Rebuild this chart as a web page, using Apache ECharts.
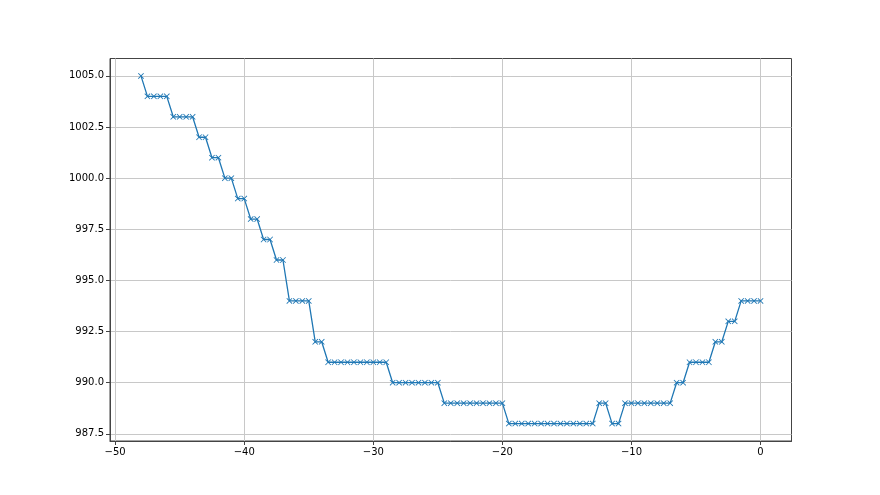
<!DOCTYPE html>
<html>
<head>
<meta charset="utf-8">
<script src="https://cdn.jsdelivr.net/npm/echarts@6/dist/echarts.min.js"></script>
<style>
  html, body { margin: 0; padding: 0; background: #fff; }
  #chart { width: 880px; height: 495px; }
</style>
</head>
<body>
<div id="chart"></div>
<script>
// x runs from -48 to 0 in steps of 0.5 (97 readings)
const xValues = [
  -48, -47.5, -47, -46.5, -46, -45.5, -45, -44.5, -44, -43.5, -43, -42.5, -42,
  -41.5, -41, -40.5, -40, -39.5, -39, -38.5, -38, -37.5, -37, -36.5, -36, -35.5,
  -35, -34.5, -34, -33.5, -33, -32.5, -32, -31.5, -31, -30.5, -30, -29.5, -29,
  -28.5, -28, -27.5, -27, -26.5, -26, -25.5, -25, -24.5, -24, -23.5, -23, -22.5,
  -22, -21.5, -21, -20.5, -20, -19.5, -19, -18.5, -18, -17.5, -17, -16.5, -16,
  -15.5, -15, -14.5, -14, -13.5, -13, -12.5, -12, -11.5, -11, -10.5, -10, -9.5,
  -9, -8.5, -8, -7.5, -7, -6.5, -6, -5.5, -5, -4.5, -4, -3.5, -3, -2.5, -2,
  -1.5, -1, -0.5, 0
];
const pressure = [
  1005, 1004, 1004, 1004, 1004, 1003, 1003, 1003, 1003, 1002, 1002, 1001, 1001,
  1000, 1000, 999, 999, 998, 998, 997, 997, 996, 996, 994, 994, 994,
  994, 992, 992, 991, 991, 991, 991, 991, 991, 991, 991, 991, 991,
  990, 990, 990, 990, 990, 990, 990, 990, 989, 989, 989, 989, 989,
  989, 989, 989, 989, 989, 988, 988, 988, 988, 988, 988, 988, 988,
  988, 988, 988, 988, 988, 988, 989, 989, 988, 988, 989, 989, 989,
  989, 989, 989, 989, 989, 990, 990, 991, 991, 991, 991, 992, 992, 993, 993,
  994, 994, 994, 994
];
const xTicks = [-50, -40, -30, -20, -10, 0];
const yTicks = [987.5, 990, 992.5, 995, 997.5, 1000, 1002.5, 1005];

const chart = echarts.init(document.getElementById('chart'));

// matplotlib style "x" marker
const crossPath = 'path://M0,1L1,0L5,4L9,0L10,1L6,5L10,9L9,10L5,6L1,10L0,9L4,5Z';
const labelFont = { fontFamily: 'DejaVu Sans', fontSize: 10, color: '#000' };

const option = {
  animation: false,
  grid: {
    left: 110, right: 88.5, top: 58.5, bottom: 54,
    show: true, borderColor: '#444', borderWidth: 1, backgroundColor: 'transparent'
  },
  xAxis: {
    type: 'value',
    min: -50.4,
    max: 2.4,
    axisLine: { show: true, onZero: false, lineStyle: { color: '#444' } },
    axisTick: { show: true, length: 4, customValues: xTicks, lineStyle: { color: '#444' } },
    axisLabel: Object.assign({
      customValues: xTicks,
      margin: 6,
      formatter: v => (v < 0 ? '\u2212' + Math.abs(v) : String(v))
    }, labelFont),
    splitLine: { show: true, lineStyle: { color: '#c8c8c8', width: 1 } }
  },
  yAxis: {
    type: 'value',
    min: 987.15,
    max: 1005.85,
    axisLine: { show: true, onZero: false, lineStyle: { color: '#444' } },
    axisTick: { show: true, length: 4, customValues: yTicks, lineStyle: { color: '#444' } },
    axisLabel: Object.assign({
      customValues: yTicks,
      margin: 6,
      formatter: v => v.toFixed(1)
    }, labelFont),
    splitLine: { show: true, lineStyle: { color: '#c8c8c8', width: 1 } }
  },
  series: [{
    type: 'line',
    data: xValues.map((x, i) => [x, pressure[i]]),
    lineStyle: { color: '#1f77b4', width: 1.3 },
    itemStyle: { color: '#1f77b4' },
    symbol: crossPath,
    symbolSize: 6,
    showAllSymbol: true
  }]
};
chart.setOption(option);
</script>
</body>
</html>
